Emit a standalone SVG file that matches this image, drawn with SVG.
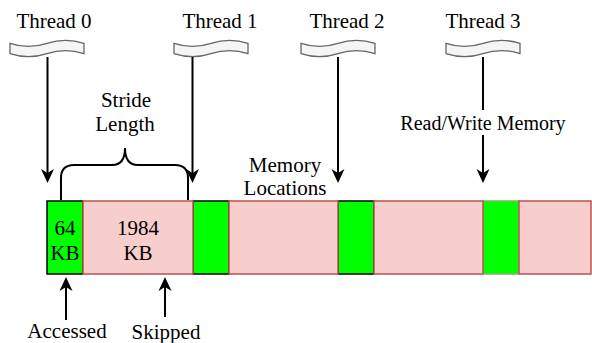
<svg xmlns="http://www.w3.org/2000/svg" width="592" height="343" viewBox="0 0 592 343">
<style>
text{font-family:'Liberation Serif','Times New Roman',serif;font-size:21px;fill:#000;text-anchor:middle}
.rw{font-size:20px}
.tape{fill:#f5f5f5;stroke:#666666;stroke-width:1.3}
.pink{fill:#f8cecc;stroke:#b85450;stroke-width:1.5}
.green{fill:#00ff00;stroke:#000;stroke-width:1.5}
.line{stroke:#000;stroke-width:2;fill:none}
.head{fill:#000}
</style>
<defs>
<path id="tp" d="M0,3.4 Q18.5,9.5 37,3.4 Q55.5,-2.7 74,3.4 L74,13.6 Q55.5,7.5 37,13.6 Q18.5,19.7 0,13.6 Z"/>
<path id="ahd" d="M0,0 L-6.5,-14 L0,-10 L6.5,-14 Z"/>
<path id="ahu" d="M0,0 L-6.5,14 L0,10 L6.5,14 Z"/>
</defs>
<g id="memory-bar">
<rect class="green" x="47" y="201" width="36" height="73"/>
<rect class="green" x="193" y="201" width="36" height="73"/>
<rect class="green" x="338" y="201" width="36" height="73"/>
<rect x="483" y="201" width="36" height="73" fill="#00ff00" stroke="#82b366" stroke-width="1.5"/>
<rect class="pink" x="83" y="201" width="110" height="73"/>
<rect class="pink" x="229" y="201" width="109" height="73"/>
<rect class="pink" x="374" y="201" width="109" height="73"/>
<rect class="pink" x="519" y="201" width="72" height="73"/>
<text x="65" y="235">64</text>
<text x="65" y="260">KB</text>
<text x="138" y="235">1984</text>
<text x="138" y="260">KB</text>
</g>
<g id="thread0">
<use href="#tp" class="tape" x="10" y="40"/>
<text x="54" y="28">Thread 0</text>
</g>
<g id="thread1">
<use href="#tp" class="tape" x="174" y="40"/>
<text x="220" y="28">Thread 1</text>
</g>
<g id="thread2">
<use href="#tp" class="tape" x="301" y="40"/>
<text x="347" y="28">Thread 2</text>
</g>
<g id="thread3">
<use href="#tp" class="tape" x="446" y="40"/>
<text x="483" y="28">Thread 3</text>
</g>
<g id="stride">
<path class="line" d="M61,200 L61,178 Q61,165 74,165 L112,165 Q125,165 125,148 Q125,165 138,165 L175,165 Q188,165 188,178 L188,200"/>
<text x="126" y="107">Stride</text>
<text x="125" y="131">Length</text>
</g>
<g id="memory-locations">
<text x="285" y="172">Memory</text>
<text x="285" y="195">Locations</text>
</g>
<g id="labels">
<text x="67" y="338">Accessed</text>
<text x="166" y="339">Skipped</text>
<text class="rw" x="483" y="130">Read/Write Memory</text>
</g>
<g id="connectors">
<line class="line" x1="47.5" y1="57" x2="47.5" y2="174"/>
<use href="#ahd" class="head" x="47.5" y="183"/>
<line class="line" x1="192.5" y1="57" x2="192.5" y2="174"/>
<use href="#ahd" class="head" x="192.5" y="183"/>
<line class="line" x1="338" y1="57" x2="338" y2="174"/>
<use href="#ahd" class="head" x="338" y="183"/>
<line class="line" x1="483" y1="57" x2="483" y2="110"/>
<line class="line" x1="483" y1="135" x2="483" y2="174"/>
<use href="#ahd" class="head" x="483" y="183"/>
<line class="line" x1="66" y1="287" x2="66" y2="320"/>
<use href="#ahu" class="head" x="66" y="277"/>
<line class="line" x1="165" y1="287" x2="165" y2="317"/>
<use href="#ahu" class="head" x="165" y="277"/>
</g>
</svg>
